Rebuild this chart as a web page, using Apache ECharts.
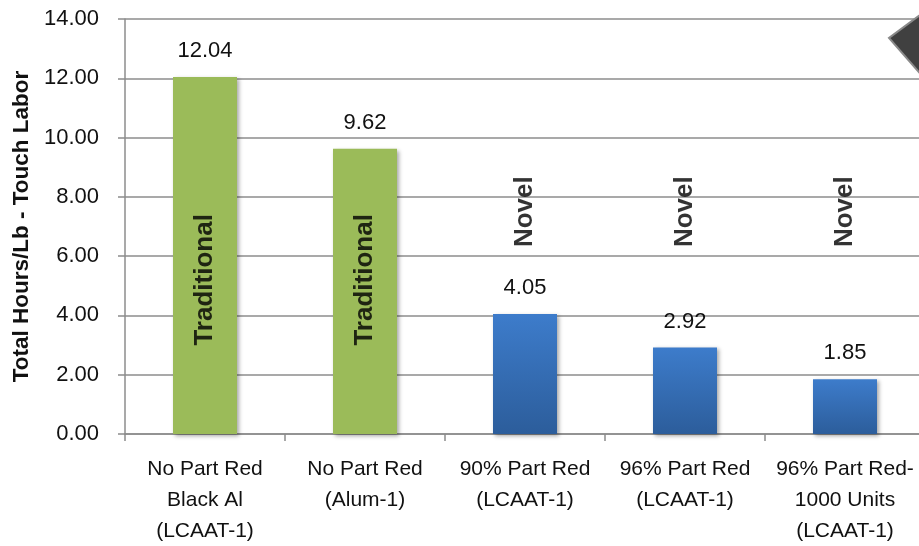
<!DOCTYPE html>
<html>
<head>
<meta charset="UTF-8">
<title>Touch Labor</title>
<script src="https://cdn.jsdelivr.net/npm/echarts@6/dist/echarts.min.js"></script>
<style>
	html, body { margin: 0; padding: 0; background: #fff; }
	#main { width: 919px; height: 546px; }
</style>
</head>
<body>
<div id="main"></div>
<script>
	// data
	var categories = ['No Part Red\nBlack Al\n(LCAAT-1)', 'No Part Red\n(Alum-1)', '90% Part Red\n(LCAAT-1)', '96% Part Red\n(LCAAT-1)', '96% Part Red-\n1000 Units\n(LCAAT-1)'];
	var hours = [12.04, 9.62, 4.05, 2.92, 1.85];
	var kinds = ['Traditional', 'Traditional', 'Novel', 'Novel', 'Novel'];
	var yTicks = [0, 2, 4, 6, 8, 10, 12, 14];

	var font = "'Liberation Sans', Arial, sans-serif";
	var green = '#9BBB59';
	var blueGrad = new echarts.graphic.LinearGradient(0, 0, 0, 1, [
		{ offset: 0, color: '#3D7CCB' },
		{ offset: 1, color: '#2C5D9B' }
	]);

	var barData = hours.map(function (v, i) {
		return {
			value: v,
			itemStyle: { color: kinds[i] == 'Traditional' ? green : blueGrad }
		};
	});
	// where the rotated kind text sits (y value of its centre)
	var noteData = kinds.map(function (k, i) {
		return { value: [i, k == 'Traditional' ? 5.2 : 7.5], name: k };
	});

	var chart = echarts.init(document.getElementById('main'));
	chart.setOption({
		animation: false,
		grid: { left: 125, top: 19, right: -6, bottom: 112, outerBoundsMode: 'none' },
		xAxis: {
			type: 'category',
			data: categories,
			axisLine: { lineStyle: { color: '#8C8C8C', width: 1.5 } },
			axisTick: { show: true, length: 7, lineStyle: { color: '#8C8C8C', width: 1.5 } },
			axisLabel: { color: '#111', fontFamily: font, fontSize: 21, lineHeight: 31, margin: 20, interval: 0 }
		},
		yAxis: {
			type: 'value',
			min: yTicks[0],
			max: yTicks[yTicks.length - 1],
			interval: 2,
			name: 'Total Hours/Lb - Touch Labor',
			nameLocation: 'middle',
			nameGap: 90,
			nameTextStyle: { color: '#111', fontFamily: font, fontSize: 22.5, fontWeight: 'bold' },
			axisLine: { show: true, lineStyle: { color: '#8C8C8C', width: 1.5 } },
			axisTick: { show: true, length: 7, lineStyle: { color: '#8C8C8C', width: 1.5 } },
			axisLabel: {
				color: '#111', fontFamily: font, fontSize: 22, margin: 26,
				formatter: function (v) { return v.toFixed(2); }
			},
			splitLine: { lineStyle: { color: '#8C8C8C', width: 1.5 } }
		},
		series: [
			{
				type: 'bar',
				data: barData,
				barWidth: 64,
				itemStyle: { shadowBlur: 4, shadowOffsetX: 2, shadowOffsetY: 2, shadowColor: 'rgba(0,0,0,0.35)' },
				label: {
					show: true, position: 'top', distance: 15,
					color: '#111', fontFamily: font, fontSize: 22,
					formatter: function (p) { return p.value.toFixed(2); }
				}
			},
			{
				type: 'scatter',
				data: noteData,
				symbolSize: 0,
				z: 5,
				label: {
					show: true, position: 'inside', rotate: 90,
					color: '#000', fontFamily: font, fontSize: 26, fontWeight: 'bold',
					formatter: function (p) { return p.name; }
				}
			}
		],
		graphic: [
			{
				type: 'polygon',
				shape: { points: [[924, 12], [889, 38], [924, 78]] },
				style: { fill: '#404040', stroke: '#8a8a8a', lineWidth: 2 },
				z: 10
			}
		]
	});
</script>
</body>
</html>
